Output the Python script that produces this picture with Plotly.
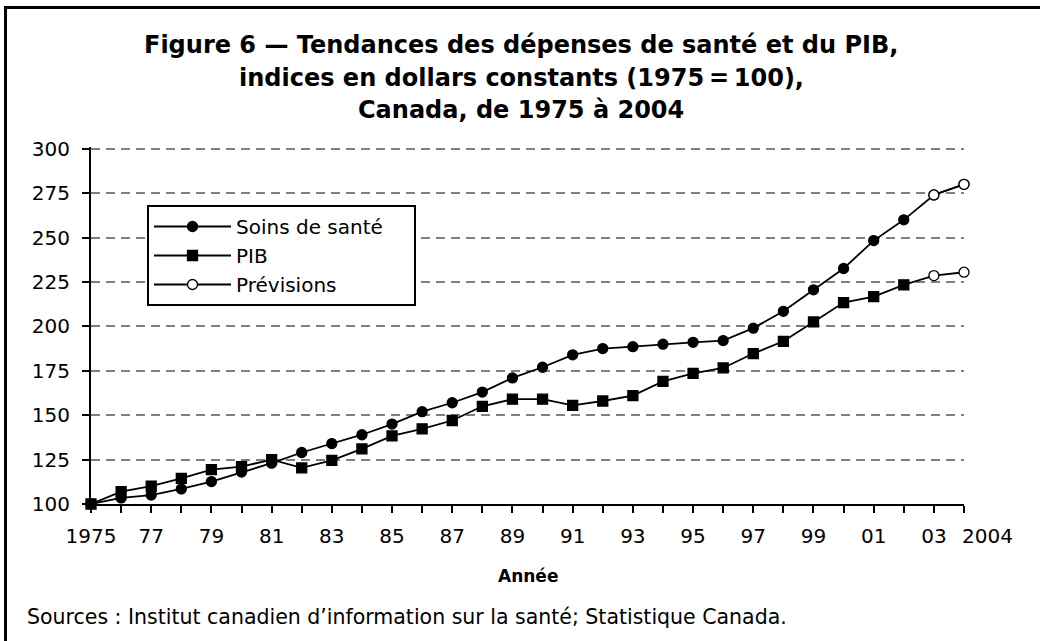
import plotly.graph_objects as go

# ---------------- data ----------------
years = list(range(1975, 2005))
health = [100, 103.4, 105, 108.5, 112.6, 118, 123, 129, 134, 139,
          145, 152, 157, 163, 171, 177, 184, 187.5, 188.6, 190,
          191, 192, 199, 208.5, 220.6, 232.6, 248.3, 260, 274, 280]
pib = [100, 107, 110, 114.4, 119.3, 121, 125, 120.3, 124.6, 131,
       138.3, 142.3, 147, 155, 159, 159, 155.5, 158, 161, 169,
       173.6, 176.6, 184.7, 191.6, 202.5, 213.4, 216.8, 223.4, 228.6, 230.5]
forecast_years = [2003, 2004]
y_ticks = [100, 125, 150, 175, 200, 225, 250, 275, 300]
x_tick_labels = ["1975", "", "77", "", "79", "", "81", "", "83", "", "85", "", "87", "",
                 "89", "", "91", "", "93", "", "95", "", "97", "", "99", "", "01", "",
                 "03", ""]
last_year_label = "2004"
series_names = ["Soins de santé", "PIB", "Prévisions"]

title_lines = ["Figure 6 \u2014 Tendances des dépenses de santé et du PIB,",
               "indices en dollars constants (1975\u2009=\u2009100),",
               "Canada, de 1975 à 2004"]
x_title = "Année"
source_text = "Sources : Institut canadien d\u2019information sur la santé; Statistique Canada."

# ---------------- figure ----------------
FONT = "DejaVu Sans"
W, H = 1040, 641
L, R, T, B = 91, 76, 147, 137
PW, PH = W - L - R, H - T - B


def px_x(px):
    return (px - L) / PW


def px_y(py):
    return (H - B - py) / PH


is_fc = [y in forecast_years for y in years]
fc_health = [h for y, h in zip(years, health) if y in forecast_years]
PAD = "\u00a0" * 4

fig = go.Figure()
fig.add_trace(go.Scatter(
    x=years, y=health, name=series_names[0] + PAD, mode="lines+markers",
    line=dict(color="black", width=1.8),
    marker=dict(symbol="circle", size=10,
                color=["white" if f else "black" for f in is_fc],
                line=dict(color="black", width=1.3)),
    cliponaxis=False))
fig.add_trace(go.Scatter(
    x=years, y=pib, name=series_names[1], mode="lines+markers",
    line=dict(color="black", width=1.8),
    marker=dict(symbol=["circle" if f else "square" for f in is_fc], size=10,
                color=["white" if f else "black" for f in is_fc],
                line=dict(color="black", width=1.3)),
    cliponaxis=False))
fig.add_trace(go.Scatter(
    x=forecast_years, y=fc_health, name=series_names[2], mode="lines+markers",
    line=dict(color="black", width=1.8),
    marker=dict(symbol="circle", size=10, color="white",
                line=dict(color="black", width=1.3)),
    cliponaxis=False))

annotations = []
for py, line in zip([45, 78, 110], title_lines):
    annotations.append(dict(text="<b>" + line + "</b>", xref="paper", yref="paper",
                            x=px_x(521), y=px_y(py), xanchor="center", yanchor="middle",
                            showarrow=False, font=dict(family=FONT, size=24, color="black")))
annotations.append(dict(text="<b>" + x_title + "</b>", xref="paper", yref="paper",
                        x=0.5, y=px_y(576), xanchor="center", yanchor="middle",
                        showarrow=False, font=dict(family=FONT, size=17, color="black")))
annotations.append(dict(text=source_text, xref="paper", yref="paper",
                        x=px_x(25), y=px_y(617), xanchor="left", yanchor="middle",
                        showarrow=False, font=dict(family=FONT, size=20.5, color="black")))
annotations.append(dict(text=last_year_label, xref="x", yref="paper",
                        x=years[-1], y=px_y(536), xanchor="left", yanchor="middle",
                        xshift=-4, showarrow=False,
                        font=dict(family=FONT, size=20, color="black")))

fig.update_layout(
    width=W, height=H,
    margin=dict(l=L, r=R, t=T, b=B, pad=0),
    paper_bgcolor="white", plot_bgcolor="white",
    font=dict(family=FONT, size=20, color="black"),
    showlegend=True,
    legend=dict(x=px_x(147), y=px_y(205), xanchor="left", yanchor="top",
                bgcolor="white", bordercolor="black", borderwidth=2,
                font=dict(family=FONT, size=20, color="black"),
                itemwidth=77, traceorder="normal"),
    xaxis=dict(range=[years[0], years[-1]], tickmode="array", tickvals=years,
               ticktext=x_tick_labels, ticks="outside", ticklen=7, tickwidth=1.5,
               tickcolor="black", showline=True, linecolor="black", linewidth=2,
               showgrid=False, zeroline=False, ticklabelstandoff=6,
               tickfont=dict(family=FONT, size=20, color="black")),
    xaxis2=dict(range=[years[0], years[-1]], overlaying="x", anchor="y", side="bottom",
                tickmode="array", tickvals=years, ticks="inside", ticklen=7,
                tickwidth=1.5, tickcolor="black", showticklabels=False,
                showline=False, showgrid=False, zeroline=False),
    yaxis=dict(range=[y_ticks[0], y_ticks[-1] + 1], tickmode="array", tickvals=y_ticks,
               ticks="outside", ticklen=7, tickwidth=1.5, tickcolor="black",
               showline=True, linecolor="black", linewidth=2,
               showgrid=True, gridcolor="#808080", gridwidth=1.5, griddash="9px,6px",
               zeroline=False, ticklabelstandoff=8,
               tickfont=dict(family=FONT, size=20, color="black")),
    annotations=annotations,
    shapes=[
        dict(type="line", xref="paper", yref="paper", x0=px_x(4), x1=px_x(1040),
             y0=px_y(7.5), y1=px_y(7.5), line=dict(color="black", width=3)),
        dict(type="line", xref="paper", yref="paper", x0=px_x(5.5), x1=px_x(5.5),
             y0=px_y(6), y1=px_y(641), line=dict(color="black", width=3)),
    ],
)

fig.write_html("out.html", config={"displayModeBar": False},
               post_script="document.body.style.margin='0';")
